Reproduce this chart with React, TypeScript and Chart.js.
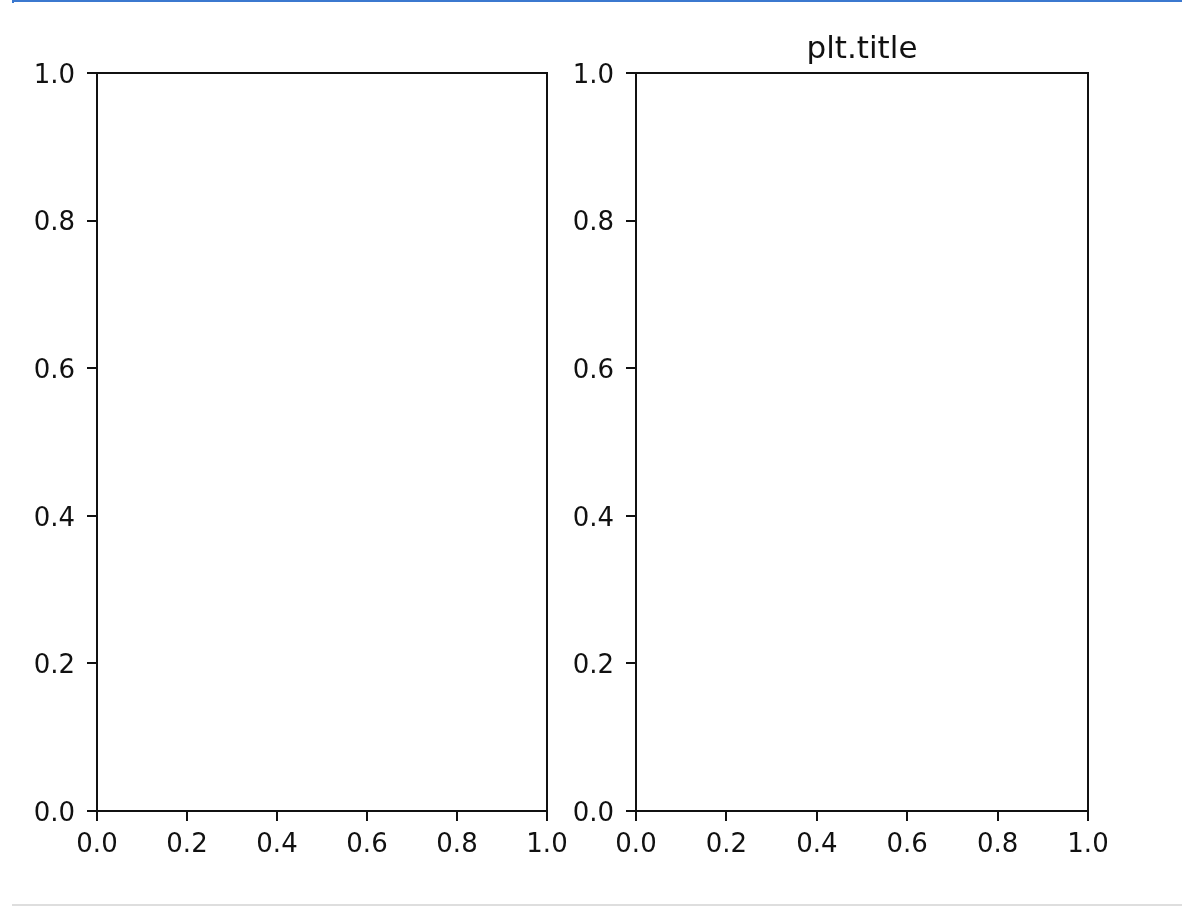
import React, { useEffect, useRef } from "react";
import { Chart, registerables } from "chart.js";

Chart.register(...registerables);

// ---- data ----
const xTickValues = [0, 0.2, 0.4, 0.6, 0.8, 1.0];
const yTickValues = [0, 0.2, 0.4, 0.6, 0.8, 1.0];
const panelTitles = ["", "plt.title"];
const seriesLeft: { x: number; y: number }[] = [];
const seriesRight: { x: number; y: number }[] = [];

const FONT = "'DejaVu Sans', sans-serif";
const INK = "#111111";

const boxPlugin = {
  id: "boxFrame",
  afterDraw(chart: any) {
    const { ctx, chartArea } = chart;
    ctx.save();
    ctx.strokeStyle = INK;
    ctx.lineWidth = 2;
    ctx.strokeRect(chartArea.left, chartArea.top, chartArea.right - chartArea.left, chartArea.bottom - chartArea.top);
    ctx.restore();
  },
};

type PanelProps = {
  left: number;
  width: number;
  yAxisWidth: number;
  padRight: number;
  title: string;
  data: { x: number; y: number }[];
};

function Panel({ left, width, yAxisWidth, padRight, title, data }: PanelProps) {
  const ref = useRef<HTMLCanvasElement>(null);
  useEffect(() => {
    if (!ref.current) return;
    const grid = {
      drawOnChartArea: false,
      drawTicks: true,
      tickLength: 10,
      tickWidth: 2,
      tickColor: INK,
      color: INK,
      lineWidth: 2,
    };
    const chart = new Chart(ref.current, {
      type: "scatter",
      data: { datasets: [{ data, pointRadius: 0 }] },
      plugins: [boxPlugin],
      options: {
        animation: false,
        responsive: false,
        maintainAspectRatio: false,
        layout: { padding: { left: 0, right: padRight, top: title ? 0 : 73, bottom: 0 } },
        plugins: {
          legend: { display: false },
          tooltip: { enabled: false },
          title: {
            display: !!title,
            text: title,
            color: INK,
            fullSize: false,
            font: { family: FONT, size: 31, weight: "normal", lineHeight: 1.2 },
            padding: { top: 31, bottom: 4.8 },
          },
        },
        scales: {
          x: {
            type: "linear",
            min: 0,
            max: 1,
            afterBuildTicks: (s: any) => {
              s.ticks = xTickValues.map((v) => ({ value: v }));
            },
            afterFit: (s: any) => {
              s.height = 95;
            },
            ticks: {
              color: INK,
              padding: 9,
              maxRotation: 0,
              font: { family: FONT, size: 26, lineHeight: 1.2 },
              callback: (v: any) => Number(v).toFixed(1),
            },
            grid,
            border: { display: false },
          },
          y: {
            type: "linear",
            min: 0,
            max: 1,
            afterBuildTicks: (s: any) => {
              s.ticks = yTickValues.map((v) => ({ value: v }));
            },
            afterFit: (s: any) => {
              s.width = yAxisWidth;
            },
            ticks: {
              color: INK,
              padding: 12,
              labelOffset: 3,
              font: { family: FONT, size: 26, lineHeight: 1.2 },
              callback: (v: any) => Number(v).toFixed(1),
            },
            grid,
            border: { display: false },
          },
        },
      },
    });
    return () => chart.destroy();
  }, []);
  return (
    <canvas
      ref={ref}
      width={width}
      height={906}
      style={{ position: "absolute", left, top: 0, width, height: 906 }}
    />
  );
}

export default function App() {
  return (
    <div style={{ position: "absolute", left: 0, top: 0, width: 1182, height: 906, background: "#fff", overflow: "hidden" }}>
      <div style={{ position: "absolute", left: 12, top: 0, width: 1170, height: 2, background: "#3b78cf" }} />
      <div style={{ position: "absolute", left: 12, top: 0, width: 2, height: 3, background: "#3b78cf" }} />
      <div style={{ position: "absolute", left: 12, top: 904, width: 1170, height: 2, background: "#dedede" }} />
      <Panel left={0} width={580} yAxisWidth={97} padRight={33} title={panelTitles[0]} data={seriesLeft} />
      <Panel left={556} width={626} yAxisWidth={80} padRight={94} title={panelTitles[1]} data={seriesRight} />
    </div>
  );
}
